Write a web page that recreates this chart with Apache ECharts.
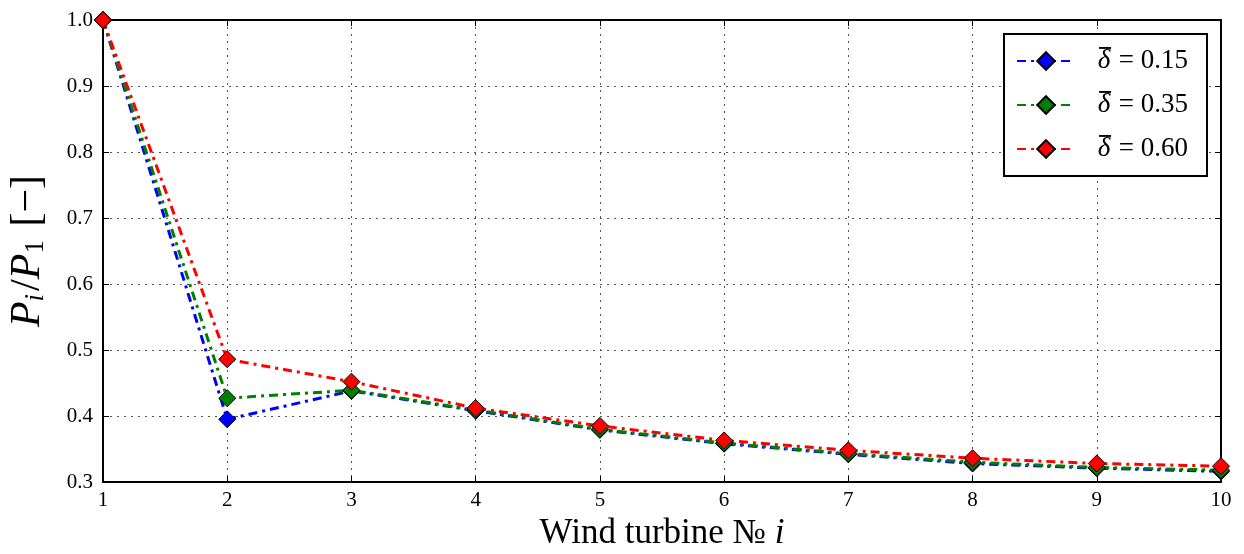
<!DOCTYPE html>
<html>
<head>
<meta charset="utf-8">
<script src="https://cdn.jsdelivr.net/npm/echarts@6/dist/echarts.min.js"></script>
<style>
  html, body { margin: 0; padding: 0; background: #fff; }
  #chart { width: 1244px; height: 554px; }
</style>
</head>
<body>
<div id="chart"></div>
<script>
// turbine index and normalised power per wake deficit
var turbines = [1, 2, 3, 4, 5, 6, 7, 8, 9, 10];
var delta015 = [1.0, 0.395, 0.438, 0.408, 0.379, 0.358, 0.342, 0.328, 0.321, 0.316];
var delta035 = [1.0, 0.427, 0.439, 0.409, 0.380, 0.359, 0.343, 0.330, 0.322, 0.318];
var delta060 = [1.0, 0.486, 0.452, 0.412, 0.385, 0.363, 0.348, 0.336, 0.328, 0.324];
var legendNames = ['δ = 0.15', 'δ = 0.35', 'δ = 0.60'];
var colors = ['#0000ff', '#008000', '#ff0000'];

var serif = 'Liberation Serif';
var chart = echarts.init(document.getElementById('chart'));

// small image used as the bar over delta
var bar = document.createElement('canvas');
bar.width = 16; bar.height = 32;
var bctx = bar.getContext('2d');
bctx.fillStyle = '#000';
bctx.fillRect(3, 1, 12, 2);

function pairs(vals) {
  var out = [];
  for (var i = 0; i < turbines.length; i++) out.push([turbines[i], vals[i]]);
  return out;
}

function mkSeries(name, vals, color) {
  return {
    name: name,
    type: 'line',
    data: pairs(vals),
    symbol: 'diamond',
    symbolSize: 17,
    showAllSymbol: true,
    lineStyle: { color: color, width: 3, type: [9, 5, 3, 5] },
    itemStyle: { color: color, borderColor: '#000', borderWidth: 1 },
    emphasis: { disabled: true },
    animation: false
  };
}

var frameAxis = {
  axisLine: { show: true, lineStyle: { color: '#000', width: 2 } },
  axisTick: { show: true, inside: true, length: 6, lineStyle: { color: '#000' } },
  axisLabel: { show: false },
  splitLine: { show: false }
};

var option = {
  backgroundColor: '#fff',
  grid: { left: 103, right: 23, top: 20, bottom: 72, outerBoundsMode: 'none', containLabel: false },
  legend: {
    orient: 'vertical',
    right: 37,
    top: 34,
    data: legendNames,
    backgroundColor: '#fff',
    borderColor: '#000',
    borderWidth: 2,
    padding: [12, 19, 12, 12],
    itemGap: 14,
    itemWidth: 58,
    itemHeight: 22,
    formatter: function (n) {
      var p = n.split(' = ');
      return '{g|}{d|' + p[0] + '}{t| = ' + p[1] + '}';
    },
    textStyle: {
      fontFamily: serif, fontSize: 27, color: '#000',
      rich: {
        g: { width: 16, height: 30 },
        d: {
          fontFamily: serif, fontStyle: 'italic', fontSize: 27,
          width: 16, height: 30, align: 'center',
          backgroundColor: { image: bar }
        },
        t: { fontFamily: serif, fontSize: 27, height: 30 }
      }
    }
  },
  xAxis: [
    {
      type: 'value', min: 1, max: 10, interval: 1,
      name: 'Wind turbine № {i|i}',
      nameLocation: 'middle',
      nameGap: 30,
      nameTextStyle: {
        fontFamily: serif, fontSize: 35, color: '#000',
        rich: { i: { fontFamily: serif, fontStyle: 'italic', fontSize: 35 } }
      },
      axisLine: { show: true, onZero: false, lineStyle: { color: '#000', width: 2 } },
      axisTick: { show: true, inside: true, length: 6, lineStyle: { color: '#000' } },
      axisLabel: { fontFamily: serif, fontSize: 21, color: '#000', margin: 8 },
      splitLine: { show: true, lineStyle: { color: '#555', type: [2, 5], width: 1 } }
    },
    Object.assign({ type: 'value', min: 1, max: 10, interval: 1, position: 'top' }, frameAxis)
  ],
  yAxis: [
    {
      type: 'value', min: 0.3, max: 1.0, interval: 0.1,
      name: '{i|P}{si|i}{n|/}{i|P}{s|1}{n| [−]}',
      nameLocation: 'middle',
      nameRotate: 90,
      nameGap: 54,
      nameTextStyle: {
        color: '#000',
        rich: {
          i: { fontFamily: serif, fontStyle: 'italic', fontSize: 42, verticalAlign: 'bottom' },
          si: { fontFamily: serif, fontStyle: 'italic', fontSize: 27, verticalAlign: 'bottom', padding: [0, 3, 0, 0] },
          s: { fontFamily: serif, fontSize: 27, verticalAlign: 'bottom', padding: [0, 3, 0, 0] },
          n: { fontFamily: serif, fontSize: 42, verticalAlign: 'bottom' }
        }
      },
      axisLine: { show: true, onZero: false, lineStyle: { color: '#000', width: 2 } },
      axisTick: { show: true, inside: true, length: 6, lineStyle: { color: '#000' } },
      axisLabel: {
        fontFamily: serif, fontSize: 21, color: '#000', margin: 10,
        formatter: function (v) { return v.toFixed(1); }
      },
      splitLine: { show: true, lineStyle: { color: '#555', type: [2, 5], width: 1 } }
    },
    Object.assign({ type: 'value', min: 0.3, max: 1.0, interval: 0.1, position: 'right' }, frameAxis)
  ],
  series: [
    mkSeries(legendNames[0], delta015, colors[0]),
    mkSeries(legendNames[1], delta035, colors[1]),
    mkSeries(legendNames[2], delta060, colors[2])
  ]
};

chart.setOption(option);
</script>
</body>
</html>
